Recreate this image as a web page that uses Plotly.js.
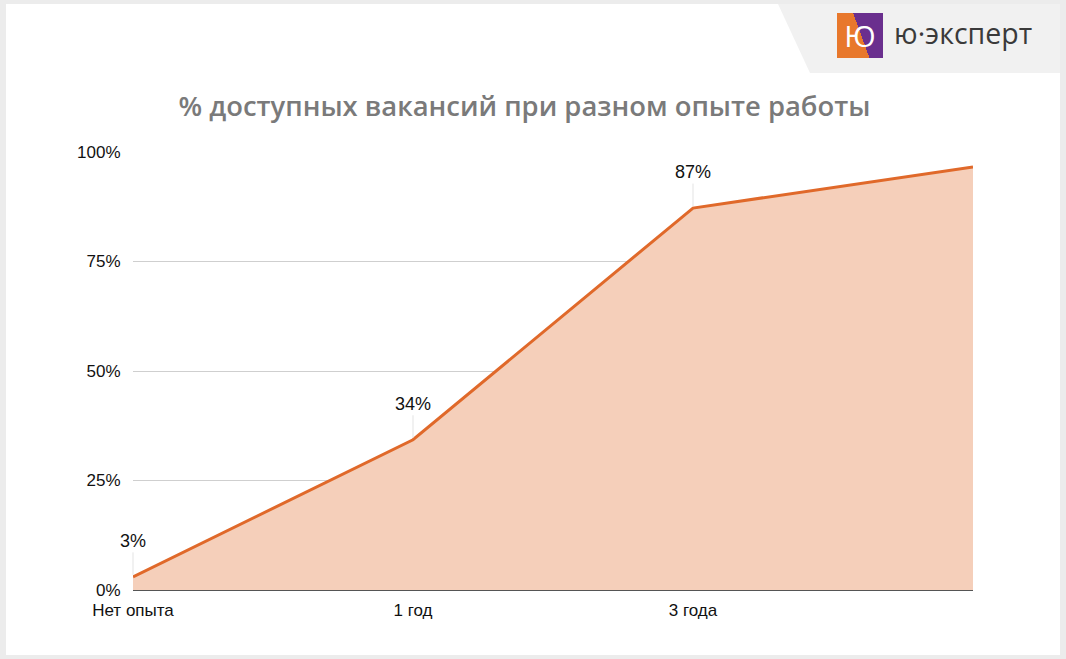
<!DOCTYPE html>
<html>
<head>
<meta charset="utf-8">
<script src="https://cdn.plot.ly/plotly-3.0.1.min.js"></script>
<style>
html,body{margin:0;padding:0;width:1066px;height:659px;overflow:hidden;background:#ececec;}
#card{position:absolute;left:6px;top:4px;width:1054px;height:651px;background:#fff;}
#logobg{position:absolute;left:778px;top:4px;width:282px;height:69px;background:#f1f1f1;
 clip-path:polygon(0 0,100% 0,100% 100%,32px 100%);}
#logobox{position:absolute;left:837px;top:13px;width:46px;height:45px;
 background:linear-gradient(70deg,#e8782c 0%,#e8782c 52%,#6a2f8e 52%,#6a2f8e 100%);
 color:#fff;font-family:"Open Sans",sans-serif;font-size:30px;line-height:45px;text-align:center;font-weight:400;}
#logotext{position:absolute;left:894px;top:13px;font-family:"Open Sans",sans-serif;font-size:28.5px;color:#3a3a3a;line-height:40px;}
#chart{position:absolute;left:0;top:0;width:1066px;height:659px;}
</style>
</head>
<body>
<div id="card"></div>
<div id="logobg"></div>
<div id="logobox">Ю</div>
<div id="logotext">ю·эксперт</div>
<div id="chart"></div>
<script>
const categories = ["Нет опыта", "1 год", "3 года", ""];
const values = [0.03, 0.343, 0.872, 0.966];
const labeled = [true, true, true, false];
const yTicks = [0, 0.25, 0.5, 0.75, 1];
const yTickText = ["0%", "25%", "50%", "75%", "100%"];

const xIdx = categories.map((c, i) => i);

const trace = {
  x: xIdx, y: values, type: 'scatter', mode: 'lines',
  line: {color: '#e0692a', width: 3},
  fill: 'tozeroy', fillcolor: '#f5cfba',
  hoverinfo: 'none'
};

const annotations = values.map((v, i) => labeled[i] ? {
  x: i, y: v, xref: 'x', yref: 'y',
  text: Math.round(v * 100) + '%',
  showarrow: true, arrowhead: 0, arrowwidth: 1, arrowcolor: '#e3e3e3',
  ax: 0, ay: -36, standoff: 2,
  font: {family: 'Liberation Sans, Arial, sans-serif', size: 18, color: '#111'}
} : null).filter(a => a);

const layout = {
  width: 1066, height: 659,
  paper_bgcolor: 'rgba(0,0,0,0)', plot_bgcolor: 'rgba(0,0,0,0)',
  margin: {l: 133, r: 93, t: 152, b: 69},
  showlegend: false,
  title: {
    text: '% доступных вакансий при разном опыте работы',
    x: 0.492, xanchor: 'center', y: 0.839, yanchor: 'middle',
    font: {family: 'Open Sans, sans-serif', size: 27.4, color: '#7a7a7a', weight: 600}
  },
  xaxis: {
    range: [0, 3], tickmode: 'array', tickvals: xIdx, ticktext: categories,
    showgrid: false, zeroline: false, showline: false, ticks: 'outside', ticklen: 5, tickcolor: 'rgba(0,0,0,0)',
    tickfont: {family: 'Liberation Sans, Arial, sans-serif', size: 17, color: '#111'}
  },
  yaxis: {
    range: [0, 1], tickmode: 'array', tickvals: yTicks, ticktext: yTickText,
    showgrid: true, gridcolor: '#cfcfcf', gridwidth: 1,
    zeroline: true, zerolinecolor: '#555555', zerolinewidth: 2,
    showline: false, ticks: 'outside', ticklen: 8, tickcolor: 'rgba(0,0,0,0)',
    tickfont: {family: 'Liberation Sans, Arial, sans-serif', size: 17, color: '#111'}
  },
  annotations: annotations
};

Plotly.newPlot('chart', [trace], layout, {displayModeBar: false, staticPlot: true});
</script>
</body>
</html>
